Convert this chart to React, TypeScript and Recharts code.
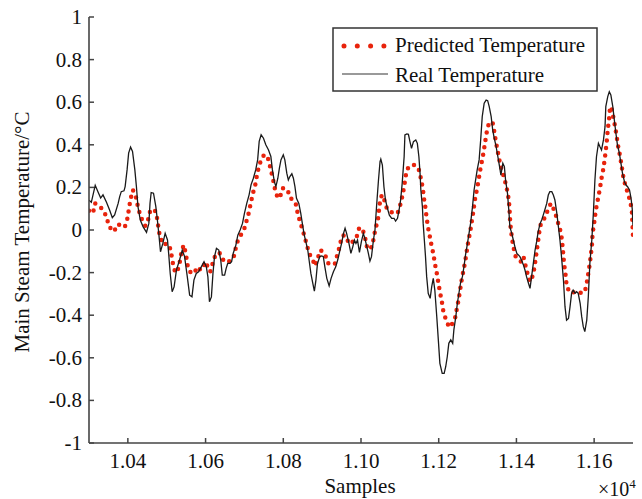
import { LineChart, Line, XAxis, YAxis } from 'recharts';

const realSamples = [
  10300, 10306, 10316, 10323, 10330, 10336, 10345, 10353, 10360, 10366, 10375, 10379, 10383, 10390, 10393, 10398,
  10402, 10407, 10412, 10418, 10422, 10426, 10432, 10439, 10448, 10454, 10457, 10460, 10466, 10472, 10476, 10480,
  10484, 10490, 10496, 10502, 10505, 10509, 10514, 10519, 10525, 10533, 10540, 10546, 10553, 10559, 10565, 10570,
  10576, 10582, 10589, 10596, 10602, 10606, 10610, 10615, 10619, 10623, 10628, 10634, 10639, 10643, 10649, 10653,
  10657, 10663, 10667, 10671, 10678, 10683, 10689, 10695, 10700, 10706, 10712, 10717, 10723, 10729, 10734, 10738,
  10743, 10749, 10755, 10762, 10768, 10772, 10777, 10781, 10786, 10790, 10794, 10800, 10804, 10809, 10813, 10817,
  10822, 10826, 10830, 10834, 10840, 10845, 10849, 10854, 10858, 10863, 10867, 10871, 10876, 10880, 10884, 10888,
  10894, 10899, 10903, 10907, 10912, 10918, 10923, 10929, 10935, 10940, 10944, 10950, 10955, 10959, 10963, 10969,
  10974, 10979, 10983, 10987, 10991, 10996, 11001, 11006, 11010, 11015, 11019, 11023, 11027, 11032, 11036, 11040,
  11045, 11049, 11051, 11055, 11059, 11063, 11068, 11073, 11079, 11085, 11089, 11094, 11098, 11102, 11106, 11111,
  11113, 11118, 11122, 11126, 11130, 11135, 11141, 11145, 11149, 11152, 11154, 11158, 11160, 11163, 11166, 11169,
  11173, 11178, 11182, 11186, 11190, 11195, 11199, 11203, 11209, 11214, 11218, 11222, 11226, 11231, 11236, 11239,
  11244, 11248, 11252, 11256, 11261, 11265, 11269, 11274, 11278, 11282, 11287, 11291, 11295, 11299, 11304, 11308,
  11312, 11317, 11322, 11326, 11330, 11335, 11339, 11343, 11347, 11353, 11358, 11360, 11365, 11369, 11372, 11377,
  11381, 11383, 11388, 11392, 11396, 11401, 11405, 11409, 11413, 11418, 11422, 11426, 11431, 11435, 11439, 11443,
  11448, 11452, 11456, 11461, 11465, 11469, 11473, 11478, 11482, 11486, 11491, 11495, 11499, 11504, 11508, 11512,
  11516, 11521, 11525, 11529, 11534, 11538, 11542, 11546, 11551, 11555, 11559, 11564, 11568, 11572, 11576, 11581,
  11585, 11589, 11594, 11598, 11602, 11606, 11611, 11615, 11619, 11624, 11628, 11630, 11635, 11639, 11643, 11648,
  11652, 11656, 11660, 11665, 11669, 11673, 11678, 11682, 11686, 11691, 11695, 11698, 11700,
];

const realValues = [
  0.14, 0.13, 0.21, 0.18, 0.15, 0.165, 0.13, 0.094, 0.058, 0.071, 0.125, 0.157, 0.18, 0.184, 0.204, 0.282,
  0.361, 0.389, 0.369, 0.282, 0.204, 0.11, 0.047, 0.016, -0.011, 0.031, 0.125, 0.176, 0.173, 0.11, 0.047, -0.024,
  -0.102, -0.063, -0.016, -0.047, -0.11, -0.204, -0.29, -0.267, -0.188, -0.141, -0.094, -0.125, -0.22, -0.306, -0.314, -0.235,
  -0.204, -0.196, -0.173, -0.149, -0.173, -0.22, -0.337, -0.314, -0.204, -0.125, -0.086, -0.094, -0.141, -0.212, -0.212, -0.18,
  -0.157, -0.157, -0.149, -0.11, -0.071, -0.024, 0.0, 0.031, 0.078, 0.125, 0.165, 0.212, 0.243, 0.282, 0.329, 0.416,
  0.447, 0.431, 0.4, 0.376, 0.345, 0.282, 0.227, 0.204, 0.243, 0.29, 0.329, 0.353, 0.329, 0.267, 0.235, 0.251,
  0.264, 0.243, 0.204, 0.149, 0.125, 0.078, 0.031, -0.024, -0.055, -0.094, -0.149, -0.204, -0.251, -0.287, -0.235, -0.157,
  -0.125, -0.122, -0.125, -0.173, -0.227, -0.262, -0.227, -0.196, -0.173, -0.141, -0.11, -0.063, -0.016, 0.008, -0.016, -0.063,
  -0.11, -0.078, -0.047, -0.063, -0.047, -0.105, -0.055, -0.016, -0.039, -0.078, -0.11, -0.146, -0.125, -0.047, 0.0, 0.11,
  0.235, 0.321, 0.333, 0.305, 0.203, 0.141, 0.102, 0.07, 0.055, 0.055, 0.042, 0.055, 0.094, 0.141, 0.219, 0.344,
  0.446, 0.451, 0.449, 0.415, 0.383, 0.415, 0.423, 0.407, 0.344, 0.266, 0.188, 0.11, 0.031, -0.047, -0.125, -0.219,
  -0.297, -0.321, -0.266, -0.227, -0.282, -0.407, -0.516, -0.626, -0.673, -0.673, -0.642, -0.595, -0.532, -0.516, -0.532, -0.469,
  -0.407, -0.344, -0.297, -0.25, -0.219, -0.172, -0.117, -0.063, -0.016, 0.031, 0.11, 0.188, 0.235, 0.282, 0.329, 0.423,
  0.532, 0.595, 0.61, 0.607, 0.579, 0.532, 0.469, 0.43, 0.399, 0.336, 0.282, 0.258, 0.313, 0.297, 0.235, 0.172,
  0.078, 0.016, -0.016, -0.047, -0.078, -0.11, -0.117, -0.125, -0.141, -0.164, -0.188, -0.219, -0.25, -0.274, -0.219, -0.164,
  -0.094, -0.055, -0.008, 0.031, 0.047, 0.07, 0.094, 0.125, 0.164, 0.18, 0.18, 0.164, 0.141, 0.078, 0.016, -0.047,
  -0.125, -0.235, -0.36, -0.423, -0.415, -0.36, -0.297, -0.282, -0.297, -0.29, -0.297, -0.344, -0.407, -0.454, -0.477, -0.423,
  -0.313, -0.156, -0.047, 0.078, 0.235, 0.344, 0.407, 0.391, 0.376, 0.423, 0.485, 0.579, 0.626, 0.649, 0.634, 0.579,
  0.516, 0.454, 0.399, 0.36, 0.313, 0.266, 0.227, 0.211, 0.203, 0.188, 0.149, 0.1, 0.02,
];

const predSamples = [
  10300, 10310, 10316, 10323, 10330, 10336, 10345, 10351, 10359, 10364, 10375, 10383, 10392, 10399, 10403, 10407,
  10413, 10422, 10426, 10433, 10439, 10445, 10452, 10458, 10465, 10472, 10476, 10480, 10486, 10493, 10499, 10506,
  10510, 10516, 10522, 10527, 10533, 10539, 10544, 10549, 10555, 10562, 10570, 10579, 10587, 10593, 10599, 10606,
  10612, 10617, 10622, 10628, 10635, 10641, 10647, 10659, 10667, 10674, 10680, 10684, 10693, 10700, 10706, 10712,
  10717, 10723, 10729, 10733, 10740, 10749, 10756, 10762, 10768, 10774, 10779, 10786, 10792, 10798, 10804, 10811,
  10818, 10826, 10833, 10837, 10843, 10850, 10856, 10863, 10869, 10876, 10882, 10890, 10897, 10903, 10910, 10916,
  10924, 10933, 10940, 10946, 10950, 10957, 10963, 10969, 10976, 10983, 10989, 10995, 11003, 11010, 11016, 11023,
  11030, 11033, 11039, 11045, 11047, 11051, 11057, 11062, 11068, 11075, 11082, 11087, 11094, 11100, 11106, 11111,
  11115, 11122, 11130, 11139, 11148, 11154, 11159, 11162, 11166, 11169, 11173, 11178, 11182, 11186, 11190, 11195,
  11199, 11203, 11208, 11212, 11219, 11227, 11236, 11242, 11246, 11251, 11255, 11259, 11263, 11268, 11272, 11276,
  11281, 11285, 11289, 11293, 11298, 11302, 11306, 11311, 11315, 11319, 11323, 11328, 11332, 11339, 11343, 11347,
  11352, 11356, 11362, 11369, 11375, 11379, 11382, 11383, 11385, 11388, 11392, 11398, 11405, 11412, 11418, 11422,
  11426, 11431, 11435, 11441, 11446, 11449, 11455, 11459, 11463, 11469, 11475, 11482, 11489, 11495, 11499, 11505,
  11510, 11515, 11518, 11521, 11523, 11527, 11529, 11534, 11540, 11551, 11559, 11568, 11576, 11581, 11585, 11589,
  11594, 11596, 11600, 11602, 11606, 11611, 11615, 11619, 11624, 11628, 11632, 11635, 11639, 11641, 11645, 11649,
  11654, 11658, 11662, 11667, 11671, 11675, 11679, 11684, 11688, 11692, 11697, 11700,
];

const predValues = [
  0.09, 0.078, 0.125, 0.118, 0.107, 0.094, 0.063, 0.019, 0.0, -0.008, 0.028, 0.019, 0.013, 0.055, 0.102, 0.146,
  0.188, 0.149, 0.107, 0.063, 0.039, 0.019, 0.047, 0.094, 0.097, 0.086, 0.047, -0.008, -0.047, -0.071, -0.063, -0.071,
  -0.094, -0.157, -0.2, -0.196, -0.157, -0.094, -0.071, -0.11, -0.18, -0.2, -0.204, -0.173, -0.188, -0.18, -0.149, -0.173,
  -0.196, -0.165, -0.133, -0.11, -0.107, -0.118, -0.149, -0.149, -0.141, -0.118, -0.063, -0.047, -0.016, 0.008, 0.047, 0.086,
  0.133, 0.18, 0.22, 0.267, 0.314, 0.348, 0.353, 0.329, 0.282, 0.235, 0.188, 0.149, 0.157, 0.196, 0.196, 0.188,
  0.149, 0.141, 0.118, 0.078, 0.039, 0.0, -0.039, -0.086, -0.118, -0.141, -0.169, -0.125, -0.094, -0.118, -0.125, -0.157,
  -0.165, -0.157, -0.11, -0.071, -0.031, -0.024, -0.039, -0.063, -0.063, -0.039, -0.031, 0.008, 0.01, -0.031, -0.086, -0.091,
  -0.07, -0.031, 0.016, 0.063, 0.11, 0.156, 0.164, 0.125, 0.094, 0.086, 0.081, 0.081, 0.078, 0.11, 0.156, 0.203,
  0.254, 0.297, 0.305, 0.305, 0.29, 0.243, 0.196, 0.149, 0.102, 0.055, 0.008, -0.039, -0.078, -0.11, -0.156, -0.203,
  -0.247, -0.29, -0.336, -0.383, -0.423, -0.457, -0.438, -0.415, -0.376, -0.329, -0.282, -0.235, -0.196, -0.149, -0.102, -0.055,
  -0.008, 0.039, 0.086, 0.141, 0.188, 0.227, 0.274, 0.321, 0.36, 0.407, 0.454, 0.493, 0.509, 0.501, 0.462, 0.415,
  0.368, 0.329, 0.282, 0.243, 0.196, 0.156, 0.11, 0.063, 0.016, -0.031, -0.078, -0.125, -0.141, -0.149, -0.125, -0.156,
  -0.188, -0.219, -0.243, -0.219, -0.18, -0.141, -0.063, -0.008, 0.031, 0.047, 0.063, 0.102, 0.125, 0.102, 0.086, 0.047,
  0.016, -0.016, -0.063, -0.125, -0.164, -0.219, -0.258, -0.282, -0.297, -0.29, -0.29, -0.297, -0.29, -0.25, -0.203, -0.156,
  -0.078, -0.016, 0.031, 0.063, 0.11, 0.156, 0.196, 0.243, 0.29, 0.344, 0.407, 0.469, 0.532, 0.579, 0.571, 0.532,
  0.485, 0.438, 0.391, 0.344, 0.297, 0.25, 0.219, 0.188, 0.164, 0.141, 0.094, -0.03,
];

const xTicks = [10400, 10600, 10800, 11000, 11200, 11400, 11600];
const yTicks = [-1, -0.8, -0.6, -0.4, -0.2, 0, 0.2, 0.4, 0.6, 0.8, 1];

const realData = realSamples.map((x, i) => ({ x, v: realValues[i] }));
const predData = predSamples.map((x, i) => ({ x, v: predValues[i] }));

const FONT = '"Liberation Serif", "Times New Roman", serif';
const AXIS = '#444';
const FS = 21;

const yLabel = (v: number) => (v === 0 || v === 1 || v === -1 ? String(v) : v.toFixed(1));

const BottomTick = (p: any) => (
  <g>
    <line x1={p.x} y1={p.y} x2={p.x} y2={p.y - 5} stroke={AXIS} strokeWidth={1.5} />
    <text x={p.x} y={p.y + 25} textAnchor="middle" fontSize={FS} fontFamily={FONT} fill="#111">
      {(p.payload.value / 10000).toFixed(2)}
    </text>
  </g>
);

const TopTick = (p: any) => (
  <line x1={p.x} y1={p.y} x2={p.x} y2={p.y + 5} stroke={AXIS} strokeWidth={1.5} />
);

const LeftTick = (p: any) => (
  <g>
    <line x1={p.x} y1={p.y} x2={p.x + 5} y2={p.y} stroke={AXIS} strokeWidth={1.5} />
    <text x={p.x - 7} y={p.y + 7} textAnchor="end" fontSize={FS} fontFamily={FONT} fill="#111">
      {yLabel(p.payload.value)}
    </text>
  </g>
);

const RightTick = (p: any) => (
  <line x1={p.x} y1={p.y} x2={p.x - 5} y2={p.y} stroke={AXIS} strokeWidth={1.5} />
);

export default function App() {
  return (
    <div style={{ position: 'absolute', left: 0, top: 0, width: 642, height: 499, background: '#fff', fontFamily: FONT }}>
      <LineChart width={642} height={499} margin={{ top: 17, right: 9, bottom: 0, left: 0 }}>
        <XAxis
          dataKey="x"
          type="number"
          domain={[10300, 11700]}
          ticks={xTicks}
          allowDataOverflow
          height={56}
          tickSize={0}
          tickMargin={0}
          tickLine={false}
          tick={<BottomTick />}
          axisLine={{ stroke: AXIS, strokeWidth: 1.6 }}
        />
        <XAxis
          xAxisId="top"
          orientation="top"
          dataKey="x"
          type="number"
          domain={[10300, 11700]}
          ticks={xTicks}
          allowDataOverflow
          height={0}
          tickSize={0}
          tickMargin={0}
          tickLine={false}
          tick={<TopTick />}
          axisLine={{ stroke: AXIS, strokeWidth: 1.6 }}
        />
        <YAxis
          type="number"
          domain={[-1, 1]}
          ticks={yTicks}
          allowDataOverflow
          width={89}
          tickSize={0}
          tickMargin={0}
          tickLine={false}
          tick={<LeftTick />}
          axisLine={{ stroke: AXIS, strokeWidth: 1.6 }}
        />
        <YAxis
          yAxisId="right"
          orientation="right"
          type="number"
          domain={[-1, 1]}
          ticks={yTicks}
          allowDataOverflow
          width={0}
          tickSize={0}
          tickMargin={0}
          tickLine={false}
          tick={<RightTick />}
          axisLine={{ stroke: AXIS, strokeWidth: 1.6 }}
        />
        <Line
          data={predData}
          dataKey="v"
          type="linear"
          stroke="#e8230c"
          strokeWidth={4.5}
          strokeDasharray="0 7.5"
          strokeLinecap="round"
          dot={false}
          isAnimationActive={false}
        />
        <Line
          data={realData}
          dataKey="v"
          type="linear"
          stroke="#1a1a1a"
          strokeWidth={1.3}
          dot={false}
          isAnimationActive={false}
        />
      </LineChart>

      <svg width={642} height={499} style={{ position: 'absolute', left: 0, top: 0, pointerEvents: 'none' }}>
        <rect x={333} y={28} width={264} height={63} fill="#fff" stroke="#333" strokeWidth={1.5} />
        <line x1={344} y1={46} x2={385} y2={46} stroke="#e8230c" strokeWidth={5} strokeDasharray="0 13.3" strokeLinecap="round" />
        <text x={395} y={52} fontSize={FS} fontFamily={FONT} fill="#111">Predicted Temperature</text>
        <line x1={342} y1={74} x2={388} y2={74} stroke="#777" strokeWidth={1.3} />
        <text x={395} y={82} fontSize={FS} fontFamily={FONT} fill="#111">Real Temperature</text>

        <text x={360} y={493} textAnchor="middle" fontSize={FS} fontFamily={FONT} fill="#111">Samples</text>
        <text x={598} y={496} fontSize={20} fontFamily={FONT} fill="#111">
          ×10<tspan fontSize={13} dy={-8}>4</tspan>
        </text>
        <text
          x={0}
          y={0}
          transform="translate(29 232) rotate(-90)"
          textAnchor="middle"
          fontSize={FS}
          fontFamily={FONT}
          fill="#111"
        >
          Main Steam Temperature/°C
        </text>
      </svg>
    </div>
  );
}
